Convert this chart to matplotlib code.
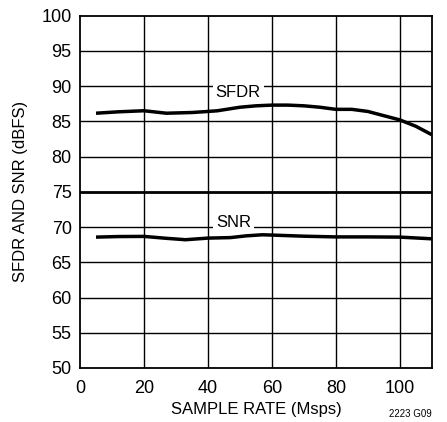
import matplotlib.pyplot as plt
import numpy as np

# values
sfdr_x = [5, 12, 20, 27, 35, 40, 43, 50, 55, 60, 65, 70, 75, 80, 85, 90, 95, 100, 105, 110]
sfdr_y = [86.15, 86.35, 86.5, 86.15, 86.25, 86.4, 86.5, 87.0, 87.2, 87.3, 87.3, 87.2, 87.0, 86.7, 86.7, 86.4, 85.8, 85.2, 84.3, 83.1]

snr_x = [5, 12, 20, 27, 33, 40, 47, 52, 57, 60, 70, 80, 90, 100, 110]
snr_y = [68.57, 68.65, 68.67, 68.4, 68.2, 68.43, 68.5, 68.75, 68.9, 68.86, 68.7, 68.6, 68.6, 68.57, 68.33]

x_ticks = [0, 20, 40, 60, 80, 100]
y_ticks = [50, 55, 60, 65, 70, 75, 80, 85, 90, 95, 100]

plt.rcParams['font.family'] = ['Liberation Sans', 'DejaVu Sans']

fig = plt.figure(figsize=(4.47, 4.22), dpi=100)
ax = fig.add_axes([0.179, 0.128, 0.787, 0.835])

ax.set_xlim(0, 110)
ax.set_ylim(50, 100)
ax.set_xticks(x_ticks)
ax.set_yticks(y_ticks)
ax.tick_params(length=0, labelsize=13, pad=6)
ax.tick_params(axis='x', pad=9)

# grid
for v in x_ticks[1:]:
    ax.axvline(v, color='black', lw=1.0, zorder=1)
for v in y_ticks[1:-1]:
    ax.axhline(v, color='black', lw=2.0 if v == 75 else 1.0, zorder=1)
for s in ax.spines.values():
    s.set_linewidth(1.3)

ax.plot(sfdr_x, sfdr_y, color='black', lw=2.5, solid_capstyle='butt', solid_joinstyle='round', zorder=3)
ax.plot(snr_x, snr_y, color='black', lw=2.5, solid_capstyle='butt', solid_joinstyle='round', zorder=3)

ax.text(49.5, 89.1, 'SFDR', ha='center', va='center', fontsize=12,
        bbox=dict(facecolor='white', edgecolor='none', pad=2), zorder=4)
ax.text(48, 70.7, 'SNR', ha='center', va='center', fontsize=12,
        bbox=dict(facecolor='white', edgecolor='none', pad=2), zorder=4)

ax.set_xlabel('SAMPLE RATE (Msps)', fontsize=12, labelpad=3)
ax.set_ylabel('SFDR AND SNR (dBFS)', fontsize=12, labelpad=10)
fig.text(0.966, 0.008, '2223 G09', ha='right', va='bottom', fontsize=7)

fig.savefig('out.png', dpi=100)
